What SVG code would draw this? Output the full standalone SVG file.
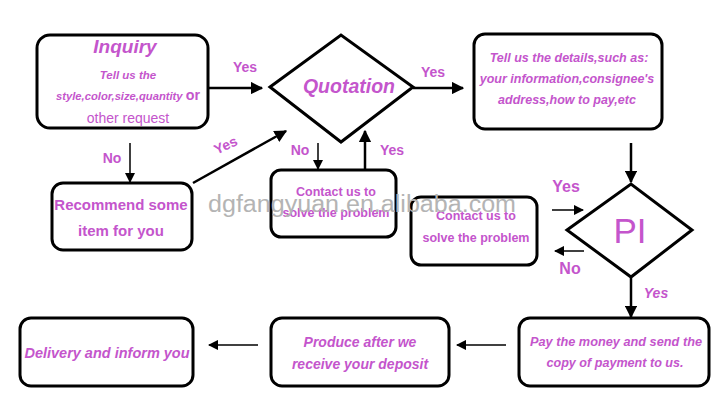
<svg xmlns="http://www.w3.org/2000/svg" width="722" height="406" viewBox="0 0 722 406">
<style>
.box{fill:#fff;stroke:#000;stroke-width:3}
.dia{fill:#fff;stroke:#000;stroke-width:3}
.t{font-family:"Liberation Sans",Arial,sans-serif;fill:#c455cc;text-anchor:middle}
.b{font-weight:bold}
.i{font-style:italic}
.line{stroke:#000;stroke-width:2.5;fill:none}
.thin{stroke:#000;stroke-width:1.5;fill:none}
.wm{font-family:"Liberation Sans",Arial,sans-serif;font-size:23px;fill:#b4b4b4}
</style>
<defs>
<marker id="ah" viewBox="0 0 10 10" refX="9" refY="5" markerWidth="5" markerHeight="5" orient="auto" markerUnits="strokeWidth"><path d="M0,0 L10,5 L0,10 z" fill="#000"/></marker>
<marker id="ahs" viewBox="0 0 10 10" refX="9" refY="5" markerWidth="7" markerHeight="7" orient="auto" markerUnits="strokeWidth"><path d="M0,0 L10,5 L0,10 z" fill="#000"/></marker>
</defs>
<rect width="722" height="406" fill="#fff"/>

<g id="connectors">
<line class="line" x1="209" y1="88" x2="262" y2="88" marker-end="url(#ah)"/>
<line class="line" x1="413" y1="88" x2="463" y2="88" marker-end="url(#ah)"/>
<line class="line" x1="631" y1="143" x2="631" y2="182" marker-end="url(#ah)"/>
<line class="thin" x1="130" y1="143" x2="130" y2="182" marker-end="url(#ahs)"/>
<line class="line" x1="193" y1="183" x2="286" y2="131" marker-end="url(#ah)"/>
<line class="thin" x1="318" y1="143" x2="318" y2="169" marker-end="url(#ahs)"/>
<line class="line" x1="365" y1="169" x2="365" y2="131" marker-end="url(#ah)"/>
<line class="thin" x1="552" y1="210" x2="583" y2="210" marker-end="url(#ahs)"/>
<line class="thin" x1="584" y1="251" x2="555" y2="251" marker-end="url(#ahs)"/>
<line class="line" x1="631" y1="278" x2="631" y2="317" marker-end="url(#ah)"/>
<line class="thin" x1="506" y1="345" x2="457" y2="345" marker-end="url(#ahs)"/>
<line class="thin" x1="258" y1="345" x2="209" y2="345" marker-end="url(#ahs)"/>
<text class="t b" x="245" y="72" font-size="14">Yes</text>
<text class="t b" x="433" y="77" font-size="14">Yes</text>
<text class="t b" x="112" y="163" font-size="14">No</text>
<text class="t b" x="226" y="150" font-size="14" transform="rotate(-25 226 146)">Yes</text>
<text class="t b" x="300" y="155" font-size="14">No</text>
<text class="t b" x="392" y="155" font-size="14">Yes</text>
<text class="t b" x="566" y="192" font-size="16">Yes</text>
<text class="t b" x="570" y="274" font-size="16">No</text>
<text class="t b i" x="656" y="298" font-size="14">Yes</text>
</g>

<g id="inquiry">
<rect class="box" x="37" y="35" width="171" height="93" rx="13"/>
<text class="t b i" x="125" y="53" font-size="19">Inquiry</text>
<text class="t b i" x="128" y="79" font-size="11.5">Tell us the</text>
<text class="t b i" x="128" y="100" font-size="11" textLength="144" lengthAdjust="spacingAndGlyphs">style,color,size,quantity <tspan font-size="14" font-style="normal">or</tspan></text>
<text class="t" x="128" y="123" font-size="14">other request</text>
</g>

<g id="quotation">
<polygon class="dia" points="270,87 341,35 413,87 341,142"/>
<text class="t b i" x="349" y="93" font-size="19.5">Quotation</text>
</g>

<g id="details">
<rect class="box" x="474" y="34" width="188" height="95" rx="11"/>
<text class="t b i" x="569" y="62" font-size="12.5">Tell us the details,such as:</text>
<text class="t b i" x="567" y="83" font-size="12.5">your information,consignee's</text>
<text class="t b i" x="567" y="104" font-size="12.5">address,how to pay,etc</text>
</g>

<g id="recommend">
<rect class="box" x="52" y="183" width="140" height="67" rx="11"/>
<text class="t b" x="121" y="210" font-size="15">Recommend some</text>
<text class="t b" x="121" y="236" font-size="15">item for you</text>
</g>

<g id="contact1">
<rect class="box" x="271" y="170" width="125" height="67" rx="10"/>
<text class="t b" x="336" y="196" font-size="12.5">Contact us to</text>
<text class="t b" x="336" y="217" font-size="12.5">solve the problem</text>
</g>

<g id="contact2">
<rect class="box" x="411" y="197" width="126" height="68" rx="10"/>
<text class="t b" x="476" y="220" font-size="12.5">Contact us to</text>
<text class="t b" x="476" y="242" font-size="12.5">solve the problem</text>
</g>

<g id="pi">
<polygon class="dia" points="567,230 631,184 692,230 631,277"/>
<text class="t" x="630" y="243" font-size="35">PI</text>
</g>

<g id="pay">
<rect class="box" x="519" y="318" width="190" height="68" rx="11"/>
<text class="t b i" x="616" y="346" font-size="12.5" textLength="172" lengthAdjust="spacingAndGlyphs">Pay the money and send the</text>
<text class="t b i" x="615" y="367" font-size="12.5" textLength="137" lengthAdjust="spacingAndGlyphs">copy of payment to us.</text>
</g>

<g id="produce">
<rect class="box" x="271" y="318" width="178" height="68" rx="11"/>
<text class="t b i" x="360" y="347" font-size="14">Produce after we</text>
<text class="t b i" x="360" y="369" font-size="14">receive your deposit</text>
</g>

<g id="delivery">
<rect class="box" x="20" y="318" width="173" height="68" rx="11"/>
<text class="t b i" x="107" y="358" font-size="14.5">Delivery and inform you</text>
</g>

<text class="wm" x="208" y="212" textLength="308" lengthAdjust="spacingAndGlyphs">dgfangyuan.en.alibaba.com</text>
</svg>
